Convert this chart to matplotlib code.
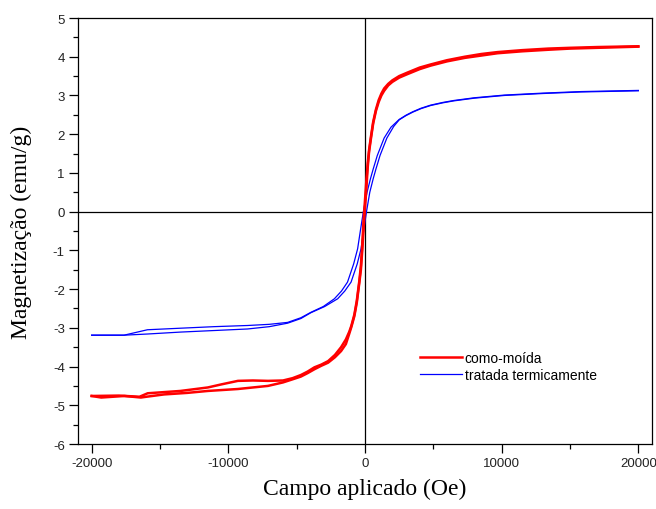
import matplotlib
matplotlib.use("Agg")
import matplotlib.pyplot as plt
from matplotlib.ticker import MultipleLocator

# Hysteresis loops: applied field (Oe) vs magnetization (emu/g)
# "como-moída" sample: descending branch (+H -> -H)
red_desc_h = [20000, 17000, 15000, 13400, 11500, 9700, 8500, 7300, 6000, 4800, 4000, 3100,
              2500, 2000, 1700, 1400, 1200, 1000, 800, 600, 440, 300, 200, 100, 0,
              -100, -200, -300, -420, -600, -780, -1000, -1150, -1400, -1750, -2200,
              -2700, -3200, -3700, -4200, -4700, -5300, -6000, -7100, -8200, -9300,
              -10500, -11500, -13500, -15900, -16500, -18000, -20000]
red_desc_m = [4.27, 4.25, 4.23, 4.21, 4.17, 4.12, 4.07, 4.00, 3.91, 3.80, 3.72, 3.59,
              3.50, 3.39, 3.30, 3.18, 3.05, 2.88, 2.64, 2.32, 1.95, 1.60, 1.25, 0.80, 0.30,
              -0.20, -0.85, -1.40, -1.80, -2.30, -2.66, -2.95, -3.10, -3.30, -3.50, -3.70,
              -3.86, -3.95, -4.02, -4.13, -4.22, -4.30, -4.36, -4.37, -4.36, -4.37,
              -4.46, -4.54, -4.63, -4.69, -4.78, -4.75, -4.76]
# "como-moída" sample: ascending branch (-H -> +H)
red_asc_h = [-20000, -19300, -17600, -16400, -16000, -14700, -13000, -11500, -9300, -7100,
             -6000, -5300, -4700, -4200, -3700, -3200, -2700, -2200, -1750, -1400, -1150,
             -1000, -780, -600, -420, -300, -200, -100, 0, 100, 200, 300, 440, 600, 800,
             1000, 1200, 1400, 1700, 2000, 2500, 3100, 4000, 4800, 6000, 7300, 8500, 9700,
             11500, 13400, 15000, 17000, 20000]
red_asc_m = [-4.76, -4.80, -4.76, -4.80, -4.78, -4.72, -4.68, -4.63, -4.58, -4.50,
             -4.41, -4.33, -4.26, -4.17, -4.07, -3.98, -3.90, -3.76, -3.60, -3.42, -3.15,
             -2.98, -2.70, -2.35, -1.85, -1.50, -1.00, -0.40, 0.10, 0.60, 1.15, 1.55, 1.90,
             2.28, 2.60, 2.83, 3.00, 3.12, 3.26, 3.35, 3.46, 3.55, 3.68, 3.77, 3.88, 3.97,
             4.03, 4.09, 4.14, 4.18, 4.21, 4.23, 4.26]

# "tratada termicamente" sample: descending branch
blue_desc_h = [20000, 15800, 13000, 10200, 8000, 6500, 5700, 4800, 4100, 3500, 3000, 2500,
               1900, 1400, 900, 600, 400, 150, -120, -320, -540, -830, -1280, -1720, -2240,
               -3050, -3960, -4690, -5660, -7000, -8590, -11040, -13500, -15920, -17630,
               -20000]
blue_desc_m = [3.13, 3.10, 3.06, 3.01, 2.94, 2.87, 2.82, 2.75, 2.67, 2.58, 2.49, 2.38,
               2.18, 1.90, 1.45, 1.10, 0.85, 0.50, 0.00, -0.45, -0.96, -1.35, -1.82, -2.05,
               -2.25, -2.45, -2.60, -2.74, -2.86, -2.91, -2.94, -2.97, -3.01, -3.05, -3.19,
               -3.19]
# "tratada termicamente" sample: ascending branch
blue_asc_h = [-20000, -17630, -15920, -13500, -11040, -8590, -7000, -5660, -4690, -3960,
              -2950, -2000, -1480, -1020, -570, -290, -80, 110, 350, 600, 800, 1100, 1600,
              2100, 2500, 3000, 3500, 4100, 4800, 5700, 6500, 8000, 10200, 13000, 15800,
              20000]
blue_asc_m = [-3.19, -3.19, -3.16, -3.11, -3.07, -3.03, -2.97, -2.88, -2.76, -2.61,
              -2.45, -2.25, -2.05, -1.82, -1.35, -0.96, -0.45, 0.00, 0.50, 0.85, 1.10,
              1.45, 1.90, 2.20, 2.37, 2.48, 2.57, 2.66, 2.74, 2.81, 2.86, 2.93, 3.00,
              3.05, 3.09, 3.12]

x_ticks = [-20000, -10000, 0, 10000, 20000]
y_ticks = list(range(-6, 6))

plt.rcParams["axes.unicode_minus"] = False
sans = "Liberation Sans"
serif = "Liberation Serif"

fig = plt.figure(figsize=(6.56, 5.10), dpi=100)
ax = fig.add_axes([78 / 656, 65 / 510, 574 / 656, 426 / 510])

ax.axhline(0, color="black", lw=0.9, zorder=1)
ax.axvline(0, color="black", lw=0.9, zorder=1)

red = "#ff0000"
blue = "#0000ff"
ax.plot(blue_desc_h, blue_desc_m, color=blue, lw=0.9, label="tratada termicamente", zorder=2)
ax.plot(blue_asc_h, blue_asc_m, color=blue, lw=0.9, zorder=2)
ax.plot(red_desc_h, red_desc_m, color=red, lw=1.8, label="como-moída", zorder=3)
ax.plot(red_asc_h, red_asc_m, color=red, lw=1.8, zorder=3)

ax.set_xlim(-21000, 21000)
ax.set_ylim(-6, 5)
ax.set_xticks(x_ticks)
ax.set_yticks(y_ticks)
ax.xaxis.set_minor_locator(MultipleLocator(5000))
ax.yaxis.set_minor_locator(MultipleLocator(0.5))
ax.tick_params(which="major", direction="out", length=6.5, width=0.9, pad=3,
               labelsize=9.5, top=False, right=False)
ax.tick_params(which="minor", direction="out", length=3.6, width=0.9,
               top=False, right=False)
for lab in ax.get_xticklabels() + ax.get_yticklabels():
    lab.set_fontfamily(sans)
    lab.set_color("#222222")
for sp in ax.spines.values():
    sp.set_linewidth(0.9)

ax.set_xlabel("Campo aplicado (Oe)", fontfamily=serif, fontsize=17)
ax.set_ylabel("Magnetização (emu/g)", fontfamily=serif, fontsize=17)
ax.xaxis.set_label_coords(0.5, -0.080)
ax.yaxis.set_label_coords(-0.080, 0.5)

handles, labels = ax.get_legend_handles_labels()
order = [labels.index("como-moída"), labels.index("tratada termicamente")]
leg = ax.legend([handles[i] for i in order], [labels[i] for i in order],
                loc="upper left", bbox_to_anchor=(0.584, 0.235), frameon=False,
                handlelength=3.0, handletextpad=0.2, labelspacing=0.25,
                borderpad=0, prop={"family": sans, "size": 10})

fig.savefig("out.png", dpi=100)
